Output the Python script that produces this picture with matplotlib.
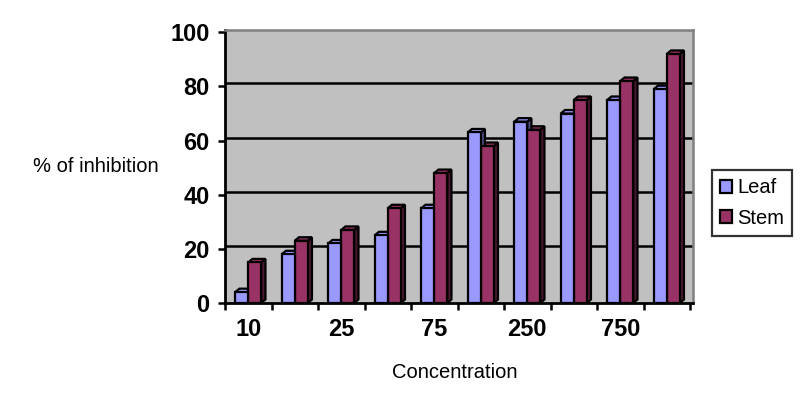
import numpy as np
import matplotlib.pyplot as plt
from matplotlib.patches import Patch

plt.rcParams['font.family'] = ['Liberation Sans', 'DejaVu Sans']

# data
categories = ['10', '', '25', '', '75', '', '250', '', '750', '']
leaf = [4, 18, 22, 25, 35, 63, 67, 70, 75, 79]
stem = [15, 23, 27, 35, 48, 58, 64, 75, 82, 92]

leaf_col, leaf_side = '#9999FF', '#4C4C80'
stem_col, stem_side = '#993366', '#4C1933'

fig = plt.figure(figsize=(8.12, 3.96), dpi=100)
ax = fig.add_axes([0.2771, 0.2348, 0.5764, 0.6904])
ax.set_facecolor('#C0C0C0')

x = np.arange(len(categories))
w = 0.28
dx, dy = 0.09, 1.3      # bar depth offset
wall_dy = 1.1            # gridlines sit on the back wall
elw = 1.6

ax.set_xlim(-0.5, len(categories) - 0.5 + 0.065)
ax.set_ylim(0, 101)

yt = [0, 20, 40, 60, 80, 100]
ax.hlines([v + wall_dy for v in yt[1:-1]], -0.5, len(categories) + 1, colors='black', lw=1.8, zorder=1)


def draw_bar(xi, h, face, side):
    ax.bar([xi], [h], width=w, color=face, edgecolor='black', lw=elw, zorder=3)
    x0, x1 = xi - w / 2, xi + w / 2
    ax.fill([x1, x1 + dx, x1 + dx, x1], [0, dy, h + dy, h], color=side, ec='black', lw=elw, zorder=2)
    ax.fill([x0, x0 + dx, x1 + dx, x1], [h, h + dy, h + dy, h], color=face, ec='black', lw=elw, zorder=2)


# right to left so the side faces overlap properly
for i in range(len(categories) - 1, -1, -1):
    draw_bar(x[i] + w / 2, stem[i], stem_col, stem_side)
    draw_bar(x[i] - w / 2, leaf[i], leaf_col, leaf_side)

ax.set_yticks(yt)
ax.set_yticklabels([str(v) for v in yt], fontsize=17, fontweight='bold')
ax.set_xticks(np.arange(len(categories) + 1) - 0.5)
ax.set_xticklabels([])
ax.set_xticks(x, minor=True)
ax.set_xticklabels(categories, minor=True, fontsize=17, fontweight='bold')
ax.tick_params(axis='x', which='minor', length=0, pad=11)
ax.tick_params(axis='both', which='major', direction='out', length=5, width=1.8, color='black')
ax.tick_params(axis='y', pad=6)

for s in ['left', 'bottom']:
    ax.spines[s].set_linewidth(2)
    ax.spines[s].set_color('black')
for s in ['top', 'right']:
    ax.spines[s].set_linewidth(1.8)
    ax.spines[s].set_color('#808080')

fig.text(455 / 812, 1 - 373 / 396, 'Concentration', fontsize=14.5, ha='center', va='center')
fig.text(96 / 812, 1 - 167 / 396, '% of inhibition', fontsize=14.5, ha='center', va='center')

handles = [Patch(facecolor=leaf_col, edgecolor='black', lw=1.6),
           Patch(facecolor=stem_col, edgecolor='black', lw=1.6)]
leg = fig.legend(handles, ['Leaf', 'Stem'], loc='center', bbox_to_anchor=(752 / 812, 1 - 203 / 396),
                 fontsize=14.5, frameon=True, fancybox=False, edgecolor='black',
                 handlelength=0.6, handleheight=0.6, handletextpad=0.25, labelspacing=0.55,
                 borderpad=0.4, borderaxespad=0)
leg.get_frame().set_linewidth(1.6)

fig.savefig('out.png', dpi=100, facecolor='white')
